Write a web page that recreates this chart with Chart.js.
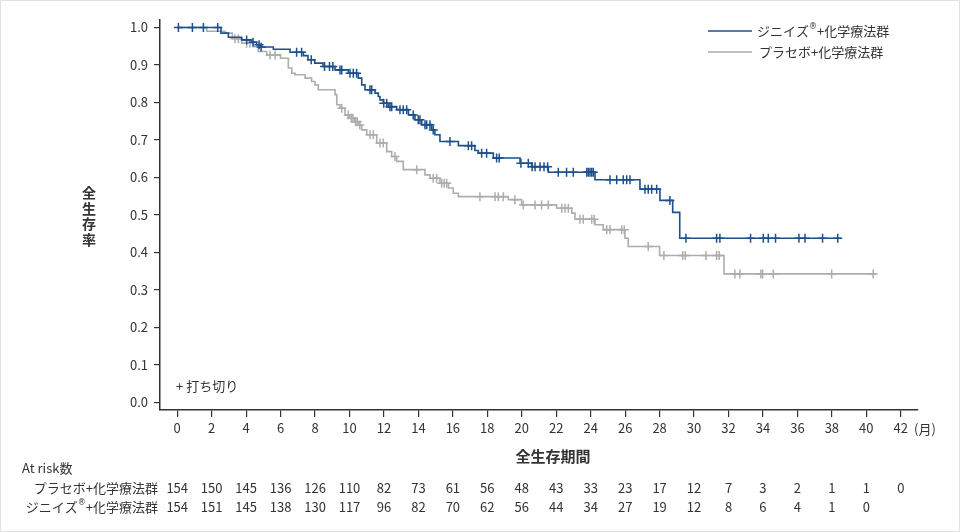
<!DOCTYPE html>
<html lang="ja">
<head>
<meta charset="utf-8">
<title>全生存率</title>
<script src="https://cdn.jsdelivr.net/npm/chart.js@4.4.1/dist/chart.umd.min.js"></script>
<style>
    html, body { margin: 0; padding: 0; background: #fff; }
    #wrap { position: relative; width: 960px; height: 532px; }
    #frame { position: absolute; left: 0; top: 0; width: 958px; height: 530px; border: 1px solid #e2e2e2; pointer-events: none; }
</style>
</head>
<body>
<div id="wrap">
    <canvas id="osChart" width="960" height="532"></canvas>
    <div id="frame"></div>
</div>
<script>
// Axis ticks
const xTicks = [0, 2, 4, 6, 8, 10, 12, 14, 16, 18, 20, 22, 24, 26, 28, 30, 32, 34, 36, 38, 40, 42];
const yTicks = [0, 0.1, 0.2, 0.3, 0.4, 0.5, 0.6, 0.7, 0.8, 0.9, 1.0];

// ジニイズ + 化学療法群 (event times in months, survival after each step)
const zinTimes = [0, 2.54, 2.97, 3.74, 4.32, 4.61, 4.8, 5.58, 6.55, 7.32, 7.59, 7.98, 8.46, 9.16, 9.93,
    10.51, 10.71, 10.9, 11.48, 11.67, 11.77, 11.96, 12.25, 12.74, 13.42, 13.8, 14.19, 14.77, 14.96, 15.25,
    16.32, 17.28, 17.48, 18.35, 19.9, 20.57, 21.54, 24.25, 26.86, 28.02, 28.76, 29.17, 38.51];
const zinSurv = [1.0, 0.985, 0.974, 0.967, 0.961, 0.954, 0.948, 0.942, 0.934, 0.925, 0.914, 0.905, 0.896, 0.887, 0.878,
    0.865, 0.847, 0.834, 0.825, 0.816, 0.807, 0.798, 0.789, 0.781, 0.767, 0.754, 0.741, 0.727, 0.714, 0.696,
    0.685, 0.672, 0.665, 0.652, 0.638, 0.629, 0.614, 0.594, 0.569, 0.539, 0.507, 0.438, 0.438];
const zinCensor = [0.07, 0.88, 1.52, 2.35, 4.03, 4.4, 4.75, 4.87, 6.93, 7.22, 7.78, 8.55, 8.84, 9.03, 9.45, 9.55,
    10.03, 10.22, 10.41, 11.19, 11.29, 11.99, 12.16, 12.35, 12.45, 12.93, 13.12, 13.32, 13.7, 13.99, 14.09,
    14.38, 14.48, 14.67, 14.86, 15.83, 16.9, 17.09, 17.67, 17.96, 18.54, 18.69, 19.95, 20.38, 20.6,
    20.77, 21.06, 21.29, 21.5, 22.12, 22.6, 22.99, 23.77, 23.86, 23.96, 24.06, 24.15, 25.12, 25.51, 25.89,
    26.09, 26.28, 27.15, 27.34, 27.54, 27.83, 28.6, 29.53, 31.31, 31.5, 33.28, 34.02, 34.31, 34.73,
    36.09, 36.44, 37.46, 38.34];

// プラセボ + 化学療法群
const plaTimes = [0, 1.71, 2.77, 3.2, 3.74, 4.42, 4.71, 5.2, 6.0, 6.45, 6.65, 6.84, 7.42, 7.8, 8.0, 8.19,
    9.16, 9.26, 9.45, 9.74, 10.0, 10.3, 10.5, 10.71, 11.0, 11.58, 12.16, 12.45, 12.74, 13.12, 14.38, 14.67,
    15.25, 15.74, 16.02, 16.32, 19.22, 19.99, 22.02, 22.9, 23.09, 24.25, 24.73, 25.99, 26.18, 28.0, 31.74, 40.56];
const plaSurv = [1.0, 0.99, 0.985, 0.97, 0.958, 0.949, 0.936, 0.927, 0.918, 0.892, 0.878, 0.874, 0.865, 0.856, 0.847, 0.834,
    0.821, 0.794, 0.785, 0.767, 0.758, 0.749, 0.74, 0.727, 0.714, 0.692, 0.669, 0.656, 0.643, 0.621, 0.607, 0.598,
    0.585, 0.572, 0.558, 0.549, 0.541, 0.527, 0.518, 0.505, 0.489, 0.474, 0.461, 0.438, 0.416, 0.392, 0.343, 0.343];
const plaCensor = [3.35, 3.55, 4.03, 4.22, 5.39, 5.68, 9.55, 9.93, 10.1, 10.2, 10.35, 10.45, 10.6, 11.19, 11.38,
    11.77, 11.96, 12.64, 13.9, 14.86, 15.06, 15.35, 15.5, 15.64, 17.57, 18.45, 18.64, 18.93, 19.6, 20.09,
    20.77, 21.15, 21.54, 22.32, 22.51, 22.7, 23.38, 23.57, 24.06, 24.2, 24.93, 25.12, 25.8, 25.95, 27.34,
    28.25, 29.34, 29.49, 30.69, 31.31, 31.46, 32.37, 32.66, 33.88, 33.98, 34.6, 37.99, 40.4];

// At risk数
const plaRisk = [154, 150, 145, 136, 126, 110, 82, 73, 61, 56, 48, 43, 33, 23, 17, 12, 7, 3, 2, 1, 1, 0];
const zinRisk = [154, 151, 145, 138, 130, 117, 96, 82, 70, 62, 56, 44, 34, 27, 19, 12, 8, 6, 4, 1, 0];

const BLUE = '#1d4f8b';
const GRAY = '#adadad';
const INK = '#333333';
const FONT = "'Noto Sans CJK JP', 'Noto Sans', sans-serif";

// Survival value at time t (step function)
function survAt(times, surv, t) {
    let s = surv[0];
    for (let i = 0; i < times.length; i++) {
        if (times[i] <= t) s = surv[i];
    }
    return s;
}

function curve(times, surv) {
    return times.map((t, i) => ({ x: t, y: surv[i] }));
}

function censorPoints(list, times, surv) {
    return list.map(t => ({ x: t, y: survAt(times, surv, t) }));
}

// Draw text made of parts, some of them superscript (for ®)
function drawParts(ctx, parts, x, y, align, size) {
    const fontFor = p => p.sup ? "8px 'DejaVu Sans', sans-serif" : size + 'px ' + FONT;
    const widths = parts.map(p => {
        ctx.font = fontFor(p);
        return ctx.measureText(p.text).width;
    });
    const total = widths.reduce((a, b) => a + b, 0);
    let cx = align === 'right' ? x - total : x;
    ctx.textAlign = 'left';
    ctx.textBaseline = 'middle';
    parts.forEach((p, i) => {
        ctx.font = fontFor(p);
        ctx.fillText(p.text, cx, p.sup ? y - size * 0.3 : y);
        cx += widths[i];
    });
}

const zinLabel = [{ text: 'ジニイズ' }, { text: '®', sup: true }, { text: '+化学療法群' }];
const plaLabel = [{ text: 'プラセボ+化学療法群' }];

// Titles, legend and at risk table
const extrasPlugin = {
    id: 'extras',
    afterDraw(chart) {
        const ctx = chart.ctx;
        const x = chart.scales.x;
        ctx.save();
        ctx.fillStyle = INK;

        // y title, stacked vertically
        ctx.font = 'bold 14px ' + FONT;
        ctx.textAlign = 'center';
        ctx.textBaseline = 'middle';
        ['全', '生', '存', '率'].forEach((c, i) => ctx.fillText(c, 89, 193 + i * 15.5));

        // x title and unit
        ctx.font = 'bold 15px ' + FONT;
        ctx.fillText('全生存期間', 553, 456);
        ctx.font = '13px ' + FONT;
        ctx.textAlign = 'left';
        ctx.fillText('(月)', 914, 429);

        // censor note
        ctx.fillText('+ 打ち切り', 176, 386);

        // legend
        ctx.lineWidth = 1.6;
        ctx.strokeStyle = BLUE;
        ctx.beginPath(); ctx.moveTo(708, 31); ctx.lineTo(752, 31); ctx.stroke();
        ctx.strokeStyle = GRAY;
        ctx.beginPath(); ctx.moveTo(708, 52); ctx.lineTo(752, 52); ctx.stroke();
        ctx.fillStyle = INK;
        drawParts(ctx, zinLabel, 757, 31, 'left', 13);
        drawParts(ctx, plaLabel, 759, 52, 'left', 13);

        // at risk table
        ctx.font = '13px ' + FONT;
        ctx.textAlign = 'left';
        ctx.fillText('At risk数', 22, 468);
        drawParts(ctx, plaLabel, 158, 488, 'right', 13);
        drawParts(ctx, zinLabel, 158, 507, 'right', 13);
        ctx.font = '13px ' + FONT;
        ctx.textAlign = 'center';
        plaRisk.forEach((n, i) => ctx.fillText(String(n), x.getPixelForValue(xTicks[i]), 488));
        zinRisk.forEach((n, i) => ctx.fillText(String(n), x.getPixelForValue(xTicks[i]), 507));
        ctx.restore();
    }
};

const axisFont = { family: FONT, size: 13 };

new Chart(document.getElementById('osChart').getContext('2d'), {
    type: 'line',
    data: {
        datasets: [
            {
                label: 'ジニイズ®+化学療法群',
                data: curve(zinTimes, zinSurv),
                stepped: 'before',
                borderColor: BLUE,
                borderWidth: 1.6,
                pointRadius: 0,
                fill: false
            },
            {
                label: 'ジニイズ 打ち切り',
                data: censorPoints(zinCensor, zinTimes, zinSurv),
                showLine: false,
                pointStyle: 'cross',
                pointRadius: 4.5,
                borderColor: BLUE,
                borderWidth: 1.5
            },
            {
                label: 'プラセボ+化学療法群',
                data: curve(plaTimes, plaSurv),
                stepped: 'before',
                borderColor: GRAY,
                borderWidth: 1.6,
                pointRadius: 0,
                fill: false
            },
            {
                label: 'プラセボ 打ち切り',
                data: censorPoints(plaCensor, plaTimes, plaSurv),
                showLine: false,
                pointStyle: 'cross',
                pointRadius: 4.5,
                borderColor: GRAY,
                borderWidth: 1.5
            }
        ]
    },
    options: {
        responsive: false,
        animation: false,
        events: [],
        layout: { padding: { left: 0, top: 20, right: 42, bottom: 92 } },
        plugins: {
            legend: { display: false },
            tooltip: { enabled: false }
        },
        scales: {
            x: {
                type: 'linear',
                min: -1,
                max: 43,
                afterBuildTicks: scale => { scale.ticks = xTicks.map(v => ({ value: v })); },
                afterFit: scale => { scale.height = 30; },
                grid: { drawOnChartArea: false, drawTicks: true, tickLength: 7, color: INK, lineWidth: 1.2 },
                border: { display: true, color: INK, width: 1.5 },
                ticks: { font: axisFont, color: INK, padding: 3, maxRotation: 0, autoSkip: false }
            },
            y: {
                min: -0.02,
                max: 1.02,
                afterBuildTicks: scale => { scale.ticks = yTicks.map(v => ({ value: v })); },
                afterFit: scale => { scale.width = 160; },
                grid: { drawOnChartArea: false, drawTicks: true, tickLength: 6, color: INK, lineWidth: 1.2 },
                border: { display: true, color: INK, width: 1.5 },
                ticks: { font: axisFont, color: INK, padding: 6, callback: v => v.toFixed(1) }
            }
        }
    },
    plugins: [extrasPlugin]
});
</script>
</body>
</html>
